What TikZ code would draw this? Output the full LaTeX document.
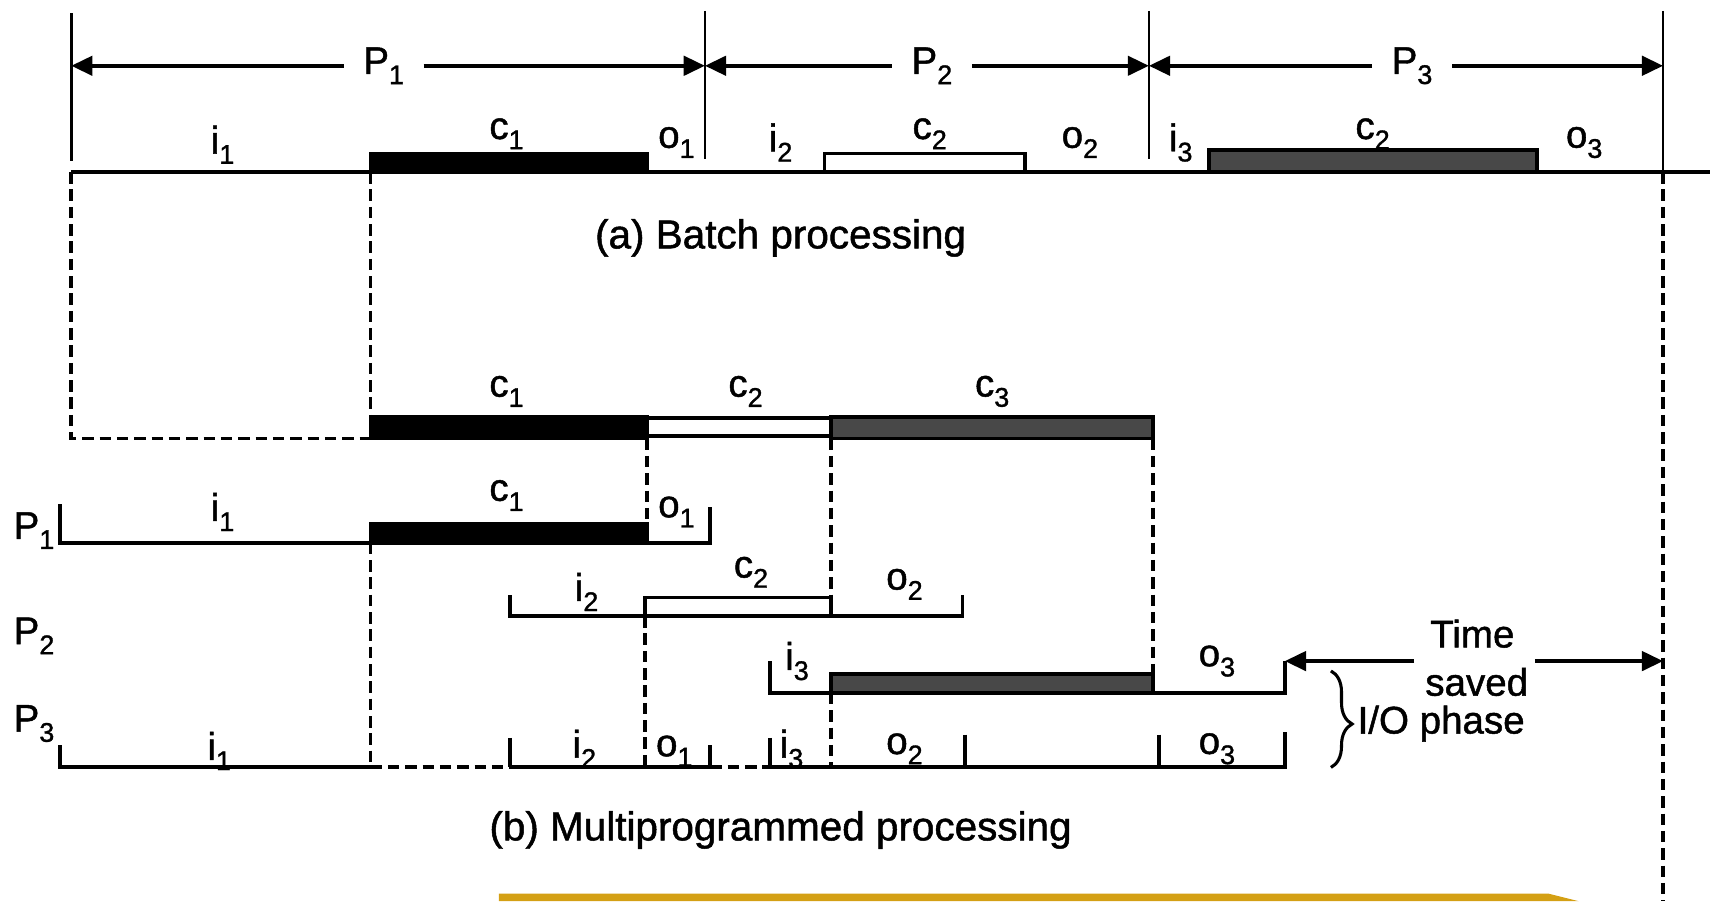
\documentclass[tikz,border=0pt]{standalone}
\usepackage{fontspec}
\setmainfont{Liberation Sans}[BoldFont=Liberation Sans, BoldFeatures={FakeBold=1.2}]
\usetikzlibrary{arrows.meta,decorations.pathreplacing}
\definecolor{goldbar}{RGB}{212,160,20}
\definecolor{stip}{RGB}{72,72,72}
\newcommand{\sbx}[1]{\raisebox{-0.5ex}{\fontsize{14}{14}\selectfont #1}}
\newcommand{\slab}[2]{#1\sbx{#2}}
\begin{document}
\begin{tikzpicture}[x=0.02cm,y=-0.02cm,
  tx/.style={font=\fontsize{20}{24}\selectfont\bfseries, inner sep=0pt},
  capt/.style={font=\fontsize{21}{25}\selectfont\bfseries, inner sep=0pt},
  gapl/.style={font=\fontsize{20}{24}\selectfont\bfseries, inner ysep=0pt, inner xsep=10pt},
  ln/.style={line width=2pt},
  sep/.style={line width=1.4pt},
  dsh/.style={line width=2pt, dash pattern=on 6pt off 3pt},
  arr/.style={line width=2pt, -{Triangle[length=11pt,width=10pt]}},
  brc/.style={line width=1.6pt, decorate, decoration={brace, amplitude=11pt, aspect=0.55}}
]
\useasboundingbox (0,0) rectangle (1568,822);

% ---------- (a) batch processing ----------
\coordinate (s0) at (65,60);
\coordinate (s1) at (643,60);
\coordinate (s2) at (1048,60);
\coordinate (s3) at (1517,60);
\draw[sep] (65,12) -- (65,147);
\draw[sep] (643,10) -- (643,145);
\draw[sep] (1048,10) -- (1048,145);
\draw[sep] (1517,10) -- (1517,157);

\node[gapl] (TP1) at (350,60) {\slab{P}{1}};
\node[gapl] (TP2) at (850,60) {\slab{P}{2}};
\node[gapl] (TP3) at (1288,60) {\slab{P}{3}};
\draw[arr] (TP1) -- (s0);
\draw[arr] (TP1) -- (s1);
\draw[arr] (TP2) -- (s1);
\draw[arr] (TP2) -- (s2);
\draw[arr] (TP3) -- (s2);
\draw[arr] (TP3) -- (s3);

\draw[ln] (65,157) -- (1560,157);
\draw[ln,fill=black] (338,140) rectangle (590,157);
\draw[ln,fill=white] (752,140) rectangle (935,157);
\draw[ln,fill=stip] (1103,137) rectangle (1402,157);

\node[tx] (ai1) at (203,132) {\slab{i}{1}};
\node[tx] (ac1) at (462,122) {\slab{c}{1}};
\node[tx] (ao1) at (617,130) {\slab{o}{1}};
\node[tx] (ai2) at (712,130) {\slab{i}{2}};
\node[tx] (ac2) at (848,122) {\slab{c}{2}};
\node[tx] (ao2) at (985,130) {\slab{o}{2}};
\node[tx] (ai3) at (1077,130) {\slab{i}{3}};
\node[tx] (ac3) at (1252,122) {\slab{c}{2}};
\node[tx] (ao3) at (1445,130) {\slab{o}{3}};

\node[capt] (capa) at (712,217) {(a) Batch processing};

\draw[dsh] (65,157) -- (65,400) -- (338,400);
\draw[dsh] (338,157) -- (338,380);
\draw[dsh] (1517,157) -- (1517,822);

% ---------- CPU line of (b) ----------
\draw[ln,fill=black] (338,380) rectangle (590,400);
\draw[ln,fill=white] (590,381) rectangle (758,398);
\draw[ln,fill=stip] (758,380) rectangle (1052,400);
\node[tx] (bc1) at (462,357) {\slab{c}{1}};
\node[tx] (bc2) at (680,357) {\slab{c}{2}};
\node[tx] (bc3) at (905,357) {\slab{c}{3}};

\draw[dsh] (590,400) -- (590,478);
\draw[dsh] (758,400) -- (758,545);
\draw[dsh] (1052,400) -- (1052,615);

% ---------- P1 row ----------
\node[tx] (LP1) at (31,484) {\slab{P}{1}};
\draw[ln] (55,460) -- (55,495) -- (338,495);
\draw[ln,fill=black] (338,478) rectangle (590,495);
\draw[ln] (590,495) -- (648,495) -- (648,462);
\node[tx] (p1i1) at (203,467) {\slab{i}{1}};
\node[tx] (p1c1) at (462,452) {\slab{c}{1}};
\node[tx] (p1o1) at (617,467) {\slab{o}{1}};

% ---------- P2 row ----------
\node[tx] (LP2) at (31,580) {\slab{P}{2}};
\draw[ln] (465,543) -- (465,562) -- (878,562) -- (878,543);
\draw[ln,fill=white] (588,545) rectangle (758,562);
\node[tx] (p2i2) at (535,540) {\slab{i}{2}};
\node[tx] (p2c2) at (685,522) {\slab{c}{2}};
\node[tx] (p2o2) at (825,533) {\slab{o}{2}};

% ---------- P3 row ----------
\coordinate (p3end) at (1172,603);
\draw[ln] (702,603) -- (702,632) -- (1172,632) -- (p3end);
\draw[ln,fill=stip] (758,615) rectangle (1052,632);
\node[tx] (p3i3) at (727,603) {\slab{i}{3}};
\node[tx] (p3o3) at (1110,603) {\slab{o}{3}};

% ---------- I/O line ----------
\node[tx] (LP3) at (31,660) {\slab{P}{3}};
\draw[dsh] (338,495) -- (338,700);
\draw[dsh] (588,562) -- (588,700);
\draw[dsh] (758,632) -- (758,700);
\draw[ln] (55,680) -- (55,700) -- (338,700);
\draw[dsh] (338,700) -- (465,700);
\draw[ln] (465,700) -- (648,700);
\draw[dsh] (648,700) -- (702,700);
\draw[ln] (702,700) -- (1172,700) -- (1172,668);
\draw[ln] (465,673) -- (465,700);
\draw[ln] (648,680) -- (648,700);
\draw[ln] (702,673) -- (702,700);
\draw[ln] (880,670) -- (880,700);
\draw[ln] (1057,670) -- (1057,700);
\node[tx] (qi1) at (200,685) {\slab{i}{1}};
\node[tx] (qi2) at (533,683) {\slab{i}{2}};
\node[tx] (qo1) at (615,685) {\slab{o}{1}};
\node[tx] (qi3) at (722,683) {\slab{i}{3}};
\node[tx] (qo2) at (825,683) {\slab{o}{2}};
\node[tx] (qo3) at (1110,683) {\slab{o}{3}};

% ---------- time saved ----------
\node[tx] (time) at (1343,578) {Time};
\node[tx] (saved) at (1347,622) {saved};
\node[tx,anchor=west] (iop) at (1238,660) {I/O phase};
\coordinate (tsl) at (1290,603);
\coordinate (tsr) at (1400,603);
\coordinate (tend) at (1517,603);
\draw[arr] (tsl) -- (p3end);
\draw[arr] (tsr) -- (tend);
\draw[brc] (1214,612) -- (1214,700);

\node[capt] (capb) at (712,757) {(b) Multiprogrammed processing};

% ---------- slide decoration ----------
\fill[goldbar] (455,815) -- (1412,815) -- (1440,822) -- (455,822) -- cycle;
\end{tikzpicture}
\end{document}
